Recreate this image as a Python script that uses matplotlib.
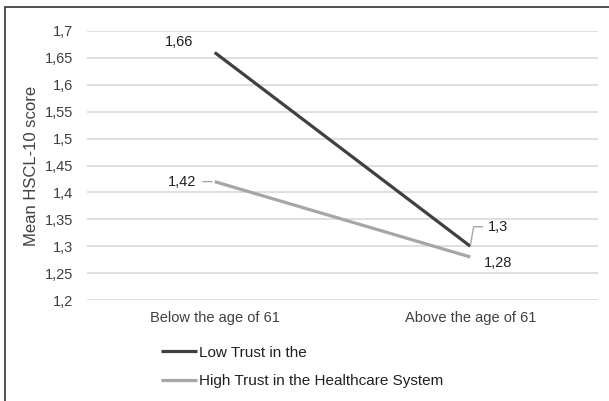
import matplotlib
matplotlib.use('Agg')
from matplotlib import pyplot as plt
from matplotlib.patches import Rectangle

plt.rcParams['font.family'] = ['Liberation Sans', 'DejaVu Sans']

categories = ['Below the age of 61', 'Above the age of 61']
low_trust = [1.66, 1.30]
high_trust = [1.42, 1.28]
series_names = ['Low Trust in the', 'High Trust in the Healthcare System']
yticks = [1.2, 1.25, 1.3, 1.35, 1.4, 1.45, 1.5, 1.55, 1.6, 1.65, 1.7]

fig = plt.figure(figsize=(6.09, 4.01), dpi=100)
ax = fig.add_axes([87/609, 1-300/401, 511/609, 269/401])

x = [0, 1]
l1, = ax.plot(x, low_trust, color='#404040', linewidth=2.3, solid_capstyle='butt')
l2, = ax.plot(x, high_trust, color='#a6a6a6', linewidth=2.3, solid_capstyle='butt')

ax.set_xlim(-0.5, 1.5)
ax.set_ylim(1.2, 1.7)
ax.set_yticks(yticks)
ax.set_yticklabels([('%g' % v).replace('.', ',') for v in yticks], fontsize=10.5, color='#404040')
ax.set_xticks(x)
ax.set_xticklabels(categories, fontsize=10.5, color='#404040')
ax.tick_params(axis='y', length=0, pad=10)
ax.tick_params(axis='x', length=0, pad=8)
ax.grid(axis='y', color='#d9d9d9', linewidth=1.2)
ax.set_axisbelow(True)
for s in ax.spines.values():
    s.set_visible(False)
ax.set_ylabel('Mean HSCL-10 score', fontsize=12, color='#404040', labelpad=4)

def lbl(v):
    return ('%g' % v).replace('.', ',')

# data labels
ax.annotate(lbl(low_trust[0]), (x[0], low_trust[0]), xytext=(-36, 7.5), textcoords='offset points',
            fontsize=10.5, color='#202020', va='center')
ax.annotate(lbl(high_trust[0]), (x[0], high_trust[0]), xytext=(-34, 0), textcoords='offset points',
            fontsize=10.5, color='#202020', va='center',
            arrowprops=dict(arrowstyle='-', color='#a6a6a6', lw=1, shrinkA=3, shrinkB=2))
ax.annotate(lbl(low_trust[1]), (x[1], low_trust[1]), xytext=(13, 14), textcoords='offset points',
            fontsize=10.5, color='#202020', va='center',
            arrowprops=dict(arrowstyle='-', color='#a6a6a6', lw=1, shrinkA=2, shrinkB=1,
                            connectionstyle='angle,angleA=0,angleB=80,rad=0'))
ax.annotate(lbl(high_trust[1]), (x[1], high_trust[1]), xytext=(10, -4.5), textcoords='offset points',
            fontsize=10.5, color='#202020', va='center')

fig.legend([l1, l2], series_names, loc='upper left', bbox_to_anchor=(147/609, 1-332/401),
           frameon=False, fontsize=11, handlelength=2.4, handletextpad=0.1, labelspacing=0.95,
           labelcolor='#202020')

fig.patches.append(Rectangle((5/609, -0.05), 1.0, 1-7/401+0.05, transform=fig.transFigure,
                             fill=False, edgecolor='#333333', linewidth=1.2))

plt.savefig('out.png', dpi=100)
